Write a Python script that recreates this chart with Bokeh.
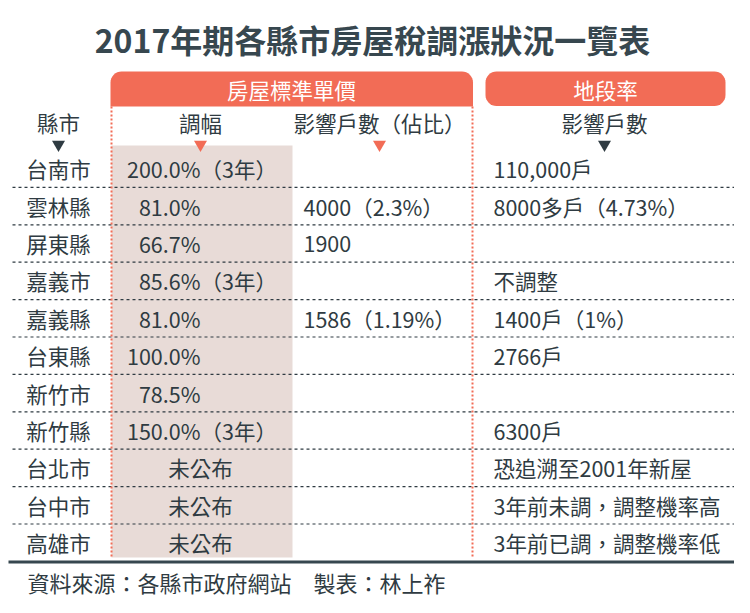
import math
from bokeh.plotting import figure
from bokeh.models import Range1d, ColumnDataSource
from bokeh.core.properties import value
from bokeh.embed import file_html
from bokeh.resources import INLINE

# ---------------- data ----------------
title = "2017年期各縣市房屋稅調漲狀況一覽表"
group_headers = ["房屋標準單價", "地段率"]
col_headers = ["縣市", "調幅", "影響戶數（佔比）", "影響戶數"]
cities = ["台南市", "雲林縣", "屏東縣", "嘉義市", "嘉義縣", "台東縣",
          "新竹市", "新竹縣", "台北市", "台中市", "高雄市"]
rate_pct = [200.0, 81.0, 66.7, 85.6, 81.0, 100.0, 78.5, 150.0, None, None, None]
rate_years = [3, None, None, 3, None, None, None, 3, None, None, None]
households = ["", "4000（2.3%）", "1900", "", "1586（1.19%）", "", "", "", "", "", ""]
land_rate = ["110,000戶", "8000多戶（4.73%）", "", "不調整", "1400戶（1%）", "2766戶",
             "", "6300戶", "恐追溯至2001年新屋", "3年前未調，調整機率高", "3年前已調，調整機率低"]
footer = "資料來源：各縣市政府網站　製表：林上祚"

# ---------------- style ----------------
FONT = value("Noto Sans CJK TC")
DARK = "#2f3b42"
TITLE_C = "#37474f"
ORANGE = "#f26c56"
SHADE = "#e8dbd7"
FS = "21.5px"

W, H = 734, 597
p = figure(width=W, height=H, x_range=Range1d(0, W), y_range=Range1d(H, 0),
           output_backend="svg", toolbar_location=None, min_border=0)
p.axis.visible = False
p.grid.visible = False
p.outline_line_color = None
p.background_fill_color = "white"
p.border_fill_color = "white"

n = len(cities)
y0, dy = 168.2, 37.4
row_y = [y0 + dy * i for i in range(n)]

x_city, x_rate, x_hh, x_land_hdr = 58, 200, 379, 604
x_hh_left, x_land_left = 303, 493


def rounded_rect(x0, y0_, x1, y1, rtl, rtr, rbr, rbl, seg=8):
    xs, ys = [], []
    corners = [
        (x0 + rtl, y0_ + rtl, rtl, 180, 270),
        (x1 - rtr, y0_ + rtr, rtr, 270, 360),
        (x1 - rbr, y1 - rbr, rbr, 0, 90),
        (x0 + rbl, y1 - rbl, rbl, 90, 180),
    ]
    for cx, cy, r, a0, a1 in corners:
        if r == 0:
            xs.append(cx); ys.append(cy)
            continue
        for k in range(seg + 1):
            a = math.radians(a0 + (a1 - a0) * k / seg)
            xs.append(cx + r * math.cos(a)); ys.append(cy + r * math.sin(a))
    return xs, ys


# shaded column
p.quad(left=[111], right=[292], top=[145], bottom=[557], fill_color=SHADE, line_color=None)

# header boxes
bx, by = rounded_rect(110, 71, 472.5, 106, 11, 11, 0, 0)
p.patch(bx, by, fill_color=ORANGE, line_color=None)
bx, by = rounded_rect(485, 71, 725, 105.5, 11, 11, 11, 11)
p.patch(bx, by, fill_color=ORANGE, line_color=None)
p.text(x=[291, 605], y=[89, 89], text=group_headers, text_font=FONT, text_font_size=FS,
       text_color="white", text_align="center", text_baseline="middle")

# column headers
p.text(x=[x_city, x_rate, x_hh, x_land_hdr], y=[122] * 4, text=col_headers, text_font=FONT,
       text_font_size=FS, text_color=DARK, text_align="center", text_baseline="middle")
p.scatter(x=[x_city, x_land_hdr], y=[144, 144], marker="inverted_triangle", size=13,
          fill_color=DARK, line_color=None)
p.scatter(x=[x_rate, x_hh], y=[144, 144], marker="inverted_triangle", size=13,
          fill_color=ORANGE, line_color=None)

# dotted row separators
for k in range(n - 1):
    yy = row_y[k] + dy / 2
    p.line([12, 735], [yy, yy], line_color=DARK, line_width=1.2, line_dash="3 3")

# orange dotted vertical lines
for xv in (111, 472):
    p.line([xv, xv], [106, 557], line_color=ORANGE, line_width=2, line_dash="2 2")

# bottom rule
yb = row_y[-1] + dy / 2 + 0.5
p.line([8, 734], [yb, yb], line_color=TITLE_C, line_width=3)

# city names
p.text(x=[x_city] * n, y=row_y, text=cities, text_font=FONT, text_font_size=FS,
       text_color=DARK, text_align="center", text_baseline="middle")

# rate column
pct_src = ColumnDataSource(dict(
    x=[x_rate] * sum(v is not None for v in rate_pct),
    y=[row_y[i] for i, v in enumerate(rate_pct) if v is not None],
    t=[f"{v:.1f}%" for v in rate_pct if v is not None]))
p.text(x="x", y="y", text="t", source=pct_src, text_font=FONT, text_font_size=FS,
       text_color=DARK, text_align="right", text_baseline="middle")
yrs_src = ColumnDataSource(dict(
    x=[x_rate] * sum(v is not None for v in rate_years),
    y=[row_y[i] for i, v in enumerate(rate_years) if v is not None],
    t=[f"（{v}年）" for v in rate_years if v is not None]))
p.text(x="x", y="y", text="t", source=yrs_src, text_font=FONT, text_font_size=FS,
       text_color=DARK, text_align="left", text_baseline="middle")
na_y = [row_y[i] for i, v in enumerate(rate_pct) if v is None]
p.text(x=[x_rate] * len(na_y), y=na_y, text=["未公布"] * len(na_y), text_font=FONT,
       text_font_size=FS, text_color=DARK, text_align="center", text_baseline="middle")

# households & land rate columns
p.text(x=[x_hh_left] * n, y=row_y, text=households, text_font=FONT, text_font_size=FS,
       text_color=DARK, text_align="left", text_baseline="middle")
p.text(x=[x_land_left] * n, y=row_y, text=land_rate, text_font=FONT, text_font_size=FS,
       text_color=DARK, text_align="left", text_baseline="middle")

# title & footer
p.text(x=[372], y=[38], text=[title], text_font=FONT, text_font_size="32px",
       text_font_style="bold", text_color=TITLE_C, text_align="center", text_baseline="middle")
p.text(x=[27], y=[581], text=[footer], text_font=FONT, text_font_size="22px",
       text_color=DARK, text_align="left", text_baseline="middle")

open("out.html", "w").write(file_html(p, INLINE))
